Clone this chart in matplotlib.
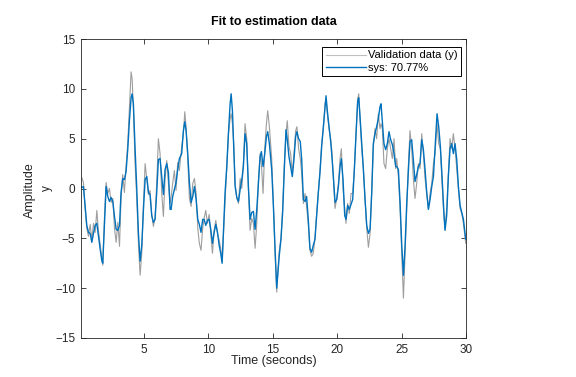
import matplotlib
matplotlib.use("Agg")
import matplotlib.pyplot as plt

# time axis (s)
t = [0.16, 0.29, 0.42, 0.55, 0.68, 0.81, 0.94, 1.07, 1.20, 1.33, 1.45, 1.58, 1.71, 1.79, 1.92, 2.05, 2.18, 2.31, 2.44, 2.57,
     2.70, 2.83, 2.96, 3.09, 3.21, 3.34, 3.47, 3.60, 3.73, 3.86, 3.99, 4.07, 4.17, 4.30,
     4.43, 4.56, 4.69, 4.82, 4.95, 5.08, 5.21, 5.34, 5.46, 5.59, 5.72, 5.85, 5.98, 6.11, 6.24, 6.37, 6.50, 6.63, 6.76, 6.89,
     7.02, 7.10, 7.22, 7.35, 7.48, 7.61, 7.74, 7.92, 8.05, 8.16, 8.26, 8.39, 8.52, 8.65, 8.78, 8.91, 9.04, 9.17, 9.29, 9.42, 9.55,
     9.66, 9.79, 9.92, 10.05, 10.18, 10.31, 10.44, 10.57, 10.70, 10.83, 10.95, 11.06, 11.16, 11.29, 11.42, 11.55, 11.68, 11.76,
     11.86, 11.96, 12.07, 12.20, 12.33, 12.46, 12.59, 12.71, 12.84, 12.97, 13.10, 13.23, 13.36, 13.49, 13.62, 13.75, 13.88,
     14.01, 14.11, 14.24, 14.37, 14.50, 14.60, 14.73,
     14.91, 15.04, 15.17, 15.30, 15.40, 15.50, 15.63, 15.76, 15.89, 16.02, 16.12, 16.25, 16.38, 16.51, 16.64, 16.77, 16.87,
     17.00, 17.13, 17.24, 17.37, 17.50, 17.62, 17.75, 17.88, 18.01, 18.14, 18.27, 18.40, 18.53, 18.66, 18.79, 18.92, 19.05,
     19.13, 19.23, 19.36, 19.49,
     19.57, 19.70, 19.83, 19.96, 20.09, 20.22, 20.32, 20.45, 20.58, 20.68, 20.81, 20.94, 21.07, 21.20, 21.33, 21.46, 21.59,
     21.67, 21.77, 21.90, 22.03, 22.16, 22.29, 22.42, 22.55, 22.68, 22.80, 22.93, 23.06, 23.19, 23.32, 23.40, 23.50, 23.63,
     23.76, 23.89, 24.02, 24.15, 24.28, 24.41, 24.54,
     24.62, 24.75, 24.88, 25.01, 25.14, 25.27, 25.40, 25.53, 25.65, 25.78, 25.91, 26.04, 26.17, 26.30, 26.43, 26.56, 26.69,
     26.82, 26.95, 27.08, 27.21, 27.34, 27.47, 27.60, 27.75, 27.88, 28.01, 28.14, 28.27, 28.37, 28.50, 28.63, 28.76, 28.89,
     29.02, 29.15, 29.28, 29.41, 29.54, 29.67, 29.80, 29.98]

# measured output (validation data)
y_val = [1.1, 0.6, -2.0, -4.0, -4.8, -3.6, -5.2, -3.5, -4.4, -2.2, -4.2, -5.5, -7.0, -7.7, -3.0, 0.6, -0.5, 0.0, -1.4, -1.0,
         -4.0, -5.4, -3.4, -5.8, -1.0, 1.4, -0.4, 2.2, 4.5, 8.0, 11.7, 11.0, 8.0, 2.5,
         -1.0, -5.5, -8.7, -6.5, -1.5, 2.5, 1.0, -0.6, -0.2, -2.5, -3.8, -3.0, 0.5, 5.0, 3.5, -0.5, -2.8, 1.0, 2.8, 0.5,
         -1.5, -0.8, 0.5, 1.8, -0.2, 2.6, 1.8, 4.2, 5.5, 7.7, 6.2, 3.0, -1.0, -1.8, 0.5, 1.0, -0.5, -4.0, -5.5, -6.2, -4.0,
         -3.0, -2.2, -3.5, -2.6, -4.6, -6.5, -4.2, -3.2, -4.5, -5.2, -6.0, -7.3, -4.8, -1.2, 2.0, 5.5, 7.0, 7.5,
         6.5, 4.5, 0.5, -1.0, -1.5, 1.0, 0.0, 2.5, 6.5, 5.0, 0.0, -4.2, -3.0, -3.5, -6.0, -3.5, 0.8,
         3.5, 2.5, -0.5, 4.0, 6.5, 7.8, 6.2,
         3.0, -1.5, -6.5, -10.4, -8.0, -6.2, -5.0, -2.0, 2.5, 5.5, 6.8, 4.2, 3.5, 1.5, 3.5, 5.8, 6.2,
         4.0, 3.0, 1.5, -1.5, -0.5, -1.8, -3.5, -6.2, -6.8, -6.5, -5.0, -2.5, -0.5, 1.8, 4.5, 6.0, 8.5,
         9.0, 7.5, 6.0, 5.0,
         4.0, 1.0, -2.0, -1.0, 0.5, 3.0, 4.0, 0.0, -2.0, -3.5, -1.5, -2.5, -0.5, -0.5, 2.0, 5.5, 9.0,
         9.5, 7.0, 4.0, 2.0, -1.0, -4.0, -5.9, -4.5, 0.0, 4.0, 6.0, 5.0, 7.5, 6.0, 6.5, 6.0, 2.5,
         2.0, 4.0, 5.0, 4.0, 3.0, 5.0, 2.0,
         3.0, 1.2, -2.0, -6.5, -11.0, -6.5, -2.0, 2.5, 5.8, 4.0, 1.0, -1.0, 0.5, 2.5, 2.0, 5.5, 3.5,
         1.0, -0.5, -2.0, -0.5, 0.5, 2.5, 3.5, 6.5, 4.5, 4.0, 0.5, -2.5, -4.0, -2.0, 1.5, 5.0, 4.0,
         5.5, 4.0, 2.0, 0.0, -2.0, -2.5, -3.5, -5.5]

# simulated model output
y_sys = [0.1, 0.2, -1.8, -3.7, -4.4, -4.5, -5.4, -4.5, -3.7, -3.5, -4.7, -6.0, -7.2, -7.5, -3.7, 0.2, -0.8, -1.3, -0.9, -1.3,
         -2.8, -4.1, -4.2, -3.7, -0.4, 1.0, 0.9, 1.7, 3.9, 6.8, 9.1, 9.5, 8.5, 4.0,
         0.0, -4.5, -7.3, -5.7, -2.1, 0.9, 1.2, -0.4, -0.6, -2.7, -3.4, -3.1, -0.4, 2.9, 3.0, 1.2, -0.6, 1.9, 2.5, 1.6,
         -2.1, -2.1, -0.8, -0.1, 0.6, 1.9, 3.0, 3.5, 5.8, 6.7, 5.8, 3.5, 0.6, -1.4, -0.8, 0.2, -1.1, -3.1, -3.6, -4.4, -3.1,
         -3.1, -3.7, -3.2, -3.1, -4.1, -5.5, -4.4, -3.6, -4.4, -5.7, -6.5, -7.5, -4.4, -0.4, 2.2, 5.5, 8.5, 9.5,
         7.8, 4.2, 0.2, -0.9, -1.3, -0.1, 0.9, 2.2, 5.5, 4.5, 0.2, -3.1, -2.4, -2.3, -4.1, -2.1, 0.6,
         3.2, 3.7, 2.2, 3.5, 5.2, 5.7, 4.5,
         1.9, -1.7, -6.0, -10.0, -8.4, -6.7, -5.1, -2.4, 1.9, 5.9, 4.9, 3.2, 2.2, 1.2, 2.9, 5.2, 5.7,
         5.0, 4.7, 2.9, -1.1, -1.3, -0.8, -3.1, -6.0, -6.4, -5.7, -5.1, -2.7, -0.4, 1.6, 4.2, 6.2, 8.2,
         9.3, 7.8, 6.2, 4.7,
         3.5, 1.2, -1.4, -1.1, 0.2, 2.2, 3.0, 0.9, -2.7, -3.1, -1.7, -2.1, -1.6, -1.1, 1.9, 5.5, 8.8,
         9.1, 7.2, 4.5, 1.9, -1.1, -3.7, -4.5, -4.1, -0.4, 4.5, 5.5, 6.2, 7.0, 8.2, 8.5, 6.8, 4.5,
         3.9, 4.5, 5.7, 4.9, 4.4, 3.5, 2.2,
         2.2, 1.9, -1.4, -5.7, -8.7, -5.7, -1.4, 1.9, 4.7, 4.9, 2.9, 0.7, 1.4, 2.2, 2.5, 4.9, 3.9,
         1.9, -0.4, -2.1, -1.1, 0.2, 1.2, 4.2, 7.5, 6.2, 4.2, 1.2, -2.1, -4.2, -2.7, 1.2, 4.0, 4.5,
         3.5, 4.5, 2.9, 0.2, -1.7, -2.4, -3.1, -5.1]

x_ticks = [5, 10, 15, 20, 25, 30]
y_ticks = [-15, -10, -5, 0, 5, 10, 15]

plt.rcParams["font.family"] = ["Liberation Sans", "DejaVu Sans"]
axis_col = (0.15, 0.15, 0.15)

fig = plt.figure(figsize=(5.76, 3.77), dpi=100)
ax = fig.add_axes([81 / 576, 39 / 377, 385 / 576, 299 / 377])

ax.plot(t, y_val, color=(0.62, 0.62, 0.62), lw=0.8, label="Validation data (y)")
ax.plot(t, y_sys, color="#0072BD", lw=1.0, label="sys: 70.77%")

ax.set_xlim(0.1, 30)
ax.set_ylim(-15, 15)
ax.set_xticks(x_ticks)
ax.set_yticks(y_ticks)
ax.tick_params(direction="in", top=True, right=True, length=3.5, width=0.6,
               labelsize=8.5, colors=axis_col, pad=4)
for s in ax.spines.values():
    s.set_color(axis_col)
    s.set_linewidth(0.6)

ax.set_title("Fit to estimation data", fontsize=9, fontweight="bold", pad=10)

fig.text(30 / 576, 1 - 190 / 377, "Amplitude", rotation=90, ha="center", va="center",
         fontsize=9, color=axis_col)
fig.text(47 / 576, 1 - 188 / 377, "y", rotation=90, ha="center", va="center",
         fontsize=8.5, color=axis_col)
fig.text(273.5 / 576, 1 - 361 / 377, "Time (seconds)", ha="center", va="center",
         fontsize=9, color=axis_col)

leg = ax.legend(loc="upper right", bbox_to_anchor=(0.987, 0.973), fontsize=8,
                fancybox=False, framealpha=1, edgecolor="black", handlelength=3.6,
                borderpad=0.3, labelspacing=0.2, handletextpad=0.2, borderaxespad=0)
leg.get_frame().set_linewidth(0.7)
leg.get_lines()[0].set_color((0.75, 0.75, 0.75))

fig.savefig("out.png", dpi=100)
